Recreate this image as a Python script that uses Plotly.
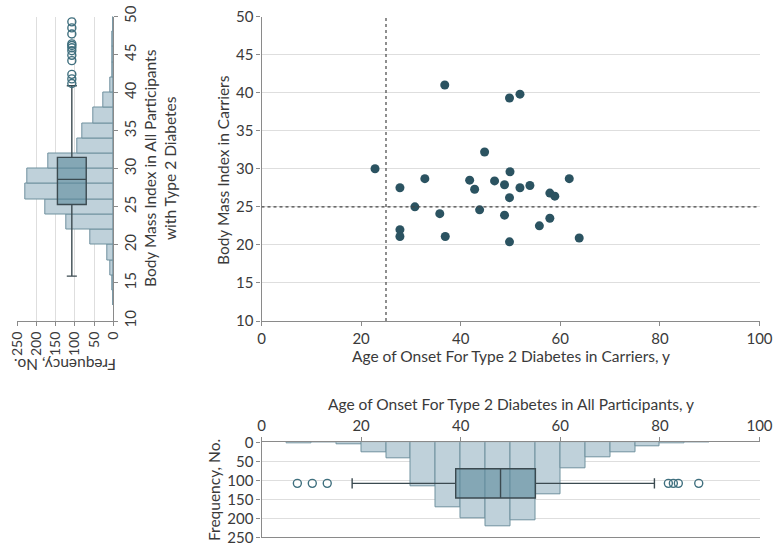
import plotly.graph_objects as go

# ---------------- data ----------------
# Carriers (scatter)
carrier_age = [22.8, 27.8, 27.8, 27.8, 30.8, 32.8, 35.8, 36.8, 36.9, 41.8, 42.8, 43.8, 44.8,
               46.8, 48.8, 48.8, 49.8, 49.9, 49.8, 49.8, 51.9, 51.9, 53.9, 55.8, 57.9, 58.9,
               57.9, 61.8, 63.8]
carrier_bmi = [30.0, 27.5, 22.0, 21.1, 25.0, 28.7, 24.1, 41.0, 21.1, 28.5, 27.3, 24.6, 32.2,
               28.4, 27.9, 23.9, 39.3, 29.6, 26.2, 20.4, 39.8, 27.5, 27.8, 22.5, 26.8, 26.4,
               23.5, 28.7, 20.9]

# All participants: age of onset histogram (5-year bins, centers)
age_bin_centers = [7.5, 12.5, 17.5, 22.5, 27.5, 32.5, 37.5, 42.5, 47.5, 52.5, 57.5, 62.5,
                   67.5, 72.5, 77.5, 82.5, 87.5]
age_counts = [2, 1, 5, 26, 43, 116, 171, 201, 221, 204, 137, 69, 40, 26, 11, 3, 1]
age_box = dict(q1=39.0, median=48.0, q3=55.0, low=18.2, high=78.9)
age_outliers = [7.2, 10.2, 13.2, 81.7, 82.7, 83.7, 87.8]

# All participants: BMI histogram (2-unit bins, centers)
bmi_bin_centers = [13, 15, 17, 19, 21, 23, 25, 27, 29, 31, 33, 35, 37, 39, 41, 43, 45, 47, 49]
bmi_counts = [1, 2, 9, 16, 61, 123, 178, 228, 223, 169, 94, 81, 52, 26, 8, 3, 2, 2, 1]
bmi_box = dict(q1=25.3, median=28.6, q3=31.5, low=15.9, high=40.9)
bmi_outliers = [41.2, 41.8, 42.4, 44.2, 44.9, 45.5, 45.9, 46.2, 46.4, 47.7, 48.5, 49.3]

box_position = 108

# ---------------- styles ----------------
FONT = "Lato"
TXT = "#3a3a3a"
AX = "#8a8a8a"
GRID = "#dedede"
BAR_FILL = "#bfd1da"
BAR_LINE = "#6f919e"
BOX_FILL = "rgba(95,140,158,0.62)"
BOX_LINE = "#3b4a50"
DOT = "#2b5361"
OUT = "#3f6f7e"

W, H = 773, 545
def px(x): return x / W
def py(y): return 1 - y / H

fig = go.Figure()

# main scatter
fig.add_trace(go.Scatter(x=carrier_age, y=carrier_bmi, mode="markers",
                         marker=dict(color=DOT, size=9), xaxis="x", yaxis="y",
                         showlegend=False, hoverinfo="skip"))

# left histogram (horizontal)
fig.add_trace(go.Bar(y=bmi_bin_centers, x=bmi_counts, orientation="h", width=2,
                     marker=dict(color=BAR_FILL, line=dict(color=BAR_LINE, width=1)),
                     xaxis="x2", yaxis="y2", showlegend=False))
fig.add_trace(go.Box(x=[box_position], q1=[bmi_box["q1"]], median=[bmi_box["median"]],
                     q3=[bmi_box["q3"]], lowerfence=[bmi_box["low"]],
                     upperfence=[bmi_box["high"]], width=75, whiskerwidth=0.35,
                     orientation="v", fillcolor=BOX_FILL,
                     line=dict(color=BOX_LINE, width=1.4),
                     xaxis="x2", yaxis="y2", showlegend=False, boxpoints=False))
fig.add_trace(go.Scatter(x=[box_position] * len(bmi_outliers), y=bmi_outliers, mode="markers",
                         marker=dict(symbol="circle-open", color=OUT, size=8,
                                     line=dict(width=1.4, color=OUT)),
                         xaxis="x2", yaxis="y2", showlegend=False))

# bottom histogram
fig.add_trace(go.Bar(x=age_bin_centers, y=age_counts, width=5,
                     marker=dict(color=BAR_FILL, line=dict(color=BAR_LINE, width=1)),
                     xaxis="x3", yaxis="y3", showlegend=False))
fig.add_trace(go.Box(y=[box_position], q1=[age_box["q1"]], median=[age_box["median"]],
                     q3=[age_box["q3"]], lowerfence=[age_box["low"]],
                     upperfence=[age_box["high"]], width=77, whiskerwidth=0.35,
                     orientation="h", fillcolor=BOX_FILL,
                     line=dict(color=BOX_LINE, width=1.4),
                     xaxis="x3", yaxis="y3", showlegend=False, boxpoints=False))
fig.add_trace(go.Scatter(x=age_outliers, y=[box_position] * len(age_outliers), mode="markers",
                         marker=dict(symbol="circle-open", color=OUT, size=8,
                                     line=dict(width=1.4, color=OUT)),
                         xaxis="x3", yaxis="y3", showlegend=False))

main_x_dom = [px(261.5), px(759.5)]
main_y_dom = [py(321), py(16.5)]
tickfont = dict(family=FONT, size=15, color=TXT)

common = dict(showline=True, linecolor=AX, linewidth=1.2, ticks="outside", ticklen=4,
              tickcolor=AX, zeroline=False, ticklabeloverflow="allow")

fig.update_layout(
    width=W, height=H, margin=dict(l=0, r=0, t=0, b=0, pad=0),
    template="none", paper_bgcolor="white", plot_bgcolor="rgba(0,0,0,0)",
    font=dict(family=FONT, size=15, color=TXT),
    bargap=0, showlegend=False,
    xaxis=dict(domain=main_x_dom, range=[0, 100], tickvals=[0, 20, 40, 60, 80, 100],
               anchor="y", showgrid=False, tickfont=tickfont, **common),
    yaxis=dict(domain=main_y_dom, range=[10, 50], tickvals=list(range(10, 51, 5)),
               anchor="x", showgrid=True, gridcolor=GRID, gridwidth=1, tickfont=tickfont, **common),
    xaxis2=dict(domain=[px(17.3), px(113.3)], range=[250, 0], tickvals=[0, 50, 100, 150, 200, 250],
                anchor="y2", tickangle=-90, showgrid=True, gridcolor=GRID, gridwidth=1,
                tickfont=dict(family=FONT, size=14, color=TXT), **common),
    yaxis2=dict(domain=main_y_dom, range=[10, 50], tickvals=list(range(10, 51, 5)),
                anchor="x2", side="right", tickangle=-90, showgrid=False, tickfont=tickfont, **common),
    xaxis3=dict(domain=main_x_dom, range=[0, 100], tickvals=[0, 20, 40, 60, 80, 100],
                anchor="y3", side="top", showgrid=False, mirror=True, tickfont=tickfont, **common),
    yaxis3=dict(domain=[py(537.3), py(442.3)], range=[250, 0], tickvals=[0, 50, 100, 150, 200, 250],
                anchor="x3", showgrid=True, gridcolor=GRID, gridwidth=1, tickfont=tickfont, **common),
)

# dotted reference lines at 25
fig.add_shape(type="line", xref="x", yref="y", x0=25, x1=25, y0=10, y1=50,
              line=dict(color="#444", width=1.2, dash="dot"))
fig.add_shape(type="line", xref="x", yref="y", x0=0, x1=100, y0=25, y1=25,
              line=dict(color="#444", width=1.2, dash="dot"))

ann = dict(xref="paper", yref="paper", showarrow=False,
           font=dict(family=FONT, size=15.5, color=TXT))
fig.add_annotation(text="Age of Onset For Type 2 Diabetes in Carriers, y",
                   x=px(511), y=py(356), xanchor="center", yanchor="middle", **ann)
fig.add_annotation(text="Body Mass Index in Carriers", textangle=-90,
                   x=px(223), y=py(170), xanchor="center", yanchor="middle", **ann)
fig.add_annotation(text="Age of Onset For Type 2 Diabetes in All Participants, y",
                   x=px(511), y=py(404), xanchor="center", yanchor="middle", **ann)
fig.add_annotation(text="Frequency, No.", textangle=-90,
                   x=px(214), y=py(490), xanchor="center", yanchor="middle", **ann)
fig.add_annotation(text="Frequency, No.", textangle=180,
                   x=px(65), y=py(365), xanchor="center", yanchor="middle", **ann)
fig.add_annotation(text="Body Mass Index in All Participants<br>with Type 2 Diabetes",
                   textangle=-90, x=px(160), y=py(168), xanchor="center", yanchor="middle", **ann)

fig.write_html("out.html", config={"displayModeBar": False},
               post_script="document.body.style.margin='0px';document.body.style.overflow='hidden';")
